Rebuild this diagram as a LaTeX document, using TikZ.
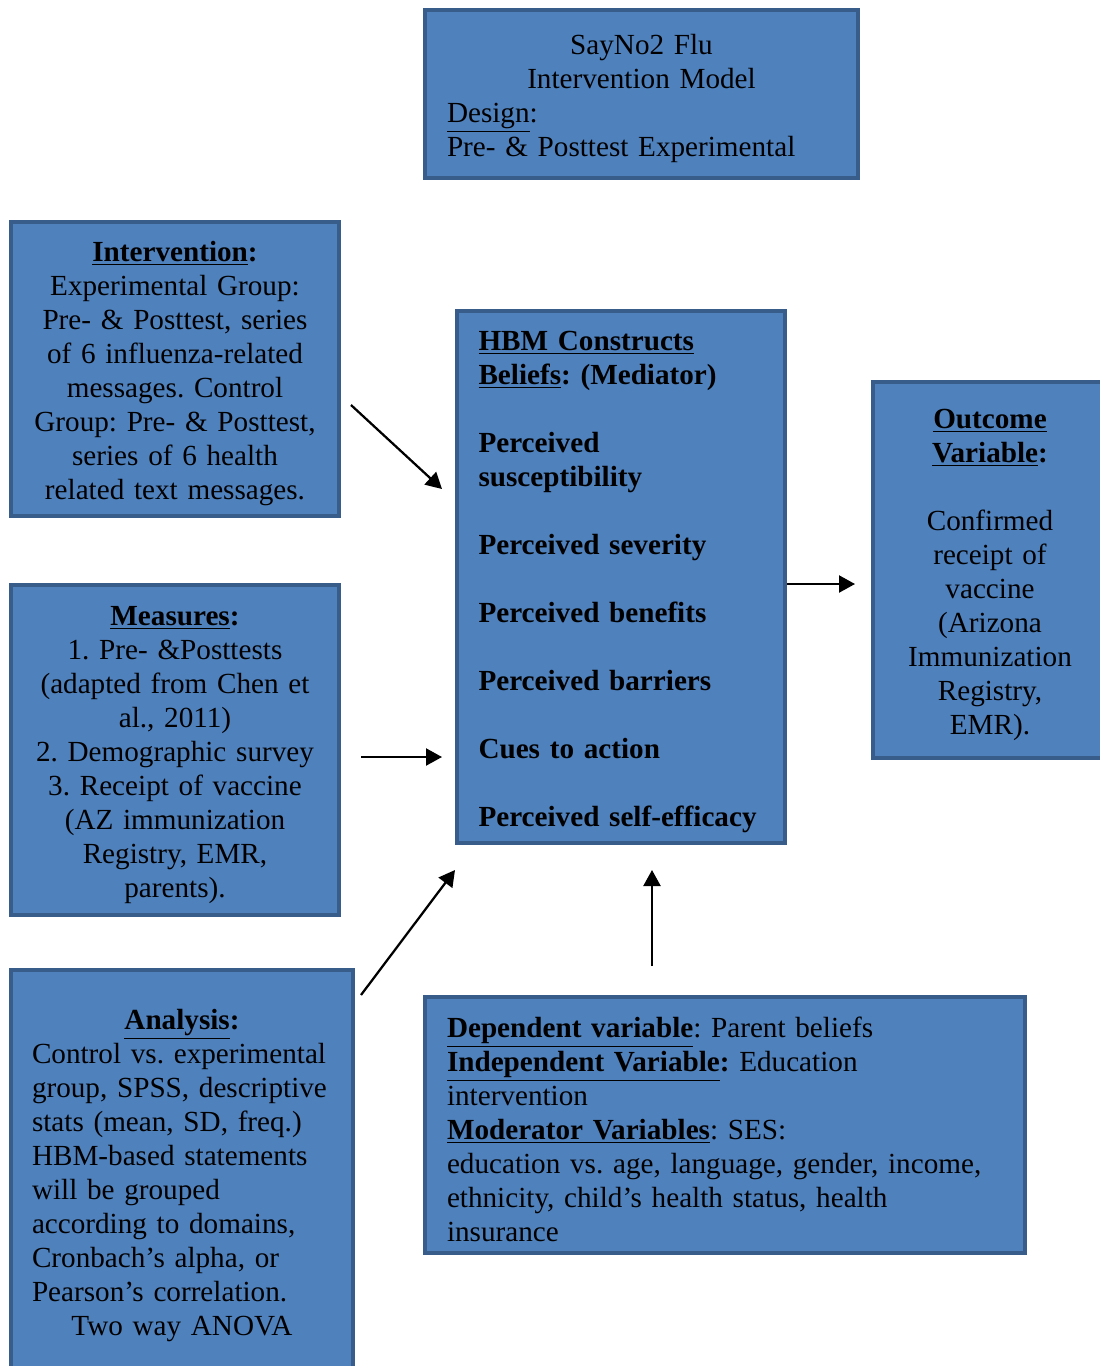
\documentclass[tikz,border=0pt]{standalone}
\usepackage{fontspec}
\setmainfont{Liberation Serif}
\usetikzlibrary{arrows.meta}
\definecolor{boxfill}{HTML}{4F81BD}
\definecolor{boxline}{HTML}{385D8A}
\frenchspacing
\newcommand{\boxfont}{\fontsize{16.6}{19.35}\selectfont\frenchspacing\spaceskip=0.21em plus 0.05em\relax}
\begin{document}
\begin{tikzpicture} [
	box/.style = {draw = boxline, fill = boxfill, line width = 0.08cm, inner sep = 0pt, text height = 0.6cm,
		font = \boxfont},
	arr/.style = {-{Triangle[length = 0.32cm, width = 0.34cm]}, line width = 0.045cm},
]
	\useasboundingbox (0, 0) rectangle (22, -27.32);
	\clip (0, 0) rectangle (22, -27.32);
	% boxes
	\node [box, minimum width = 8.66cm, minimum height = 3.36cm, text width = 7.78cm, align = left] (title) at (12.83, -1.88)
		{\hspace*{\fill}SayNo2 Flu\hspace*{\fill}\null\\ \hspace*{\fill}Intervention Model\hspace*{\fill}\null\\ \underline{Design}:\\ Pre- \& Posttest Experimental};
	\node [box, minimum width = 6.56cm, minimum height = 5.88cm, text width = 6.2cm, align = center] (interv) at (3.50, -7.38)
		{\textbf{\underline{Intervention}:}\\ Experimental Group:\\ Pre- \& Posttest, series\\ of 6 influenza-related\\ messages. Control\\ Group: Pre- \& Posttest,\\ series of 6 health\\ related text messages.};
	\node [box, minimum width = 6.56cm, minimum height = 10.64cm, text width = 5.7cm, align = left] (hbm) at (12.42, -11.54)
		{\bfseries \underline{HBM Constructs}\\ \underline{Beliefs}: (Mediator)\\[19.35pt] Perceived\\ susceptibility\\[19.35pt] Perceived severity\\[19.35pt] Perceived benefits\\[19.35pt] Perceived barriers\\[19.35pt] Cues to action\\[19.35pt] Perceived self-efficacy};
	\node [box, minimum width = 4.68cm, minimum height = 7.52cm, text width = 4.3cm, align = center] (outcome) at (19.80, -11.40)
		{\textbf{\underline{Outcome}}\\ \textbf{\underline{Variable}:}\\[19.35pt] Confirmed\\ receipt of\\ vaccine\\ (Arizona\\ Immunization\\ Registry,\\ EMR).};
	\node [box, minimum width = 6.56cm, minimum height = 6.60cm, text width = 6.2cm, align = center] (measures) at (3.50, -15.00)
		{\textbf{\underline{Measures}:}\\ 1. Pre- \&Posttests\\ (adapted from Chen et\\ al., 2011)\\ 2. Demographic survey\\ 3. Receipt of vaccine\\ (AZ immunization\\ Registry, EMR,\\ parents).};
	\node [box, minimum width = 6.84cm, minimum height = 8.04cm, text width = 6.0cm, align = left] (analysis) at (3.64, -23.42)
		{\hspace*{\fill}\textbf{\underline{Analysis}:}\hspace*{\fill}\null\\ Control vs. experimental\\ group, SPSS, descriptive\\ stats (mean, SD, freq.)\\ HBM-based statements\\ will be grouped\\ according to domains,\\ Cronbach’s alpha, or\\ Pearson’s correlation.\\ \hspace*{\fill}Two way ANOVA\hspace*{\fill}\null};
	\node [box, minimum width = 12.00cm, minimum height = 5.12cm, text width = 11.12cm, align = left] (dependent) at (14.50, -22.50)
		{\textbf{\underline{Dependent variable}}: Parent beliefs\\ \textbf{\underline{Independent Variable}:} Education\\ intervention\\ \textbf{\underline{Moderator Variables}}: SES:\\ education vs. age, language, gender, income,\\ ethnicity, child’s health status, health\\ insurance};
	% arrow ends
	\coordinate (a1s) at ([xshift = 0.2cm, yshift = -0.72cm] interv.east);
	\coordinate (a1e) at ([xshift = -0.26cm, yshift = 1.76cm] hbm.west);
	\coordinate (a2s) at ([xshift = 0.4cm, yshift = -0.14cm] measures.east);
	\coordinate (a2e) at ([xshift = -0.26cm] hbm.west |- a2s);
	\coordinate (a3s) at ([xshift = 0.12cm, yshift = -0.54cm] analysis.north east);
	\coordinate (a3e) at ([yshift = -0.5cm] hbm.south west);
	\coordinate (a4e) at ([xshift = 0.62cm, yshift = -0.5cm] hbm.south);
	\coordinate (a4s) at ([yshift = 0.58cm] a4e |- dependent.north);
	\coordinate (a5s) at ([yshift = -0.14cm] hbm.east);
	\coordinate (a5e) at ([xshift = -0.32cm] outcome.west |- a5s);
	% arrows
	\draw [arr] (a1s) -- (a1e);
	\draw [arr] (a2s) -- (a2e);
	\draw [arr] (a3s) -- (a3e);
	\draw [arr] (a4s) -- (a4e);
	\draw [arr] (a5s) -- (a5e);
\end{tikzpicture}
\end{document}
